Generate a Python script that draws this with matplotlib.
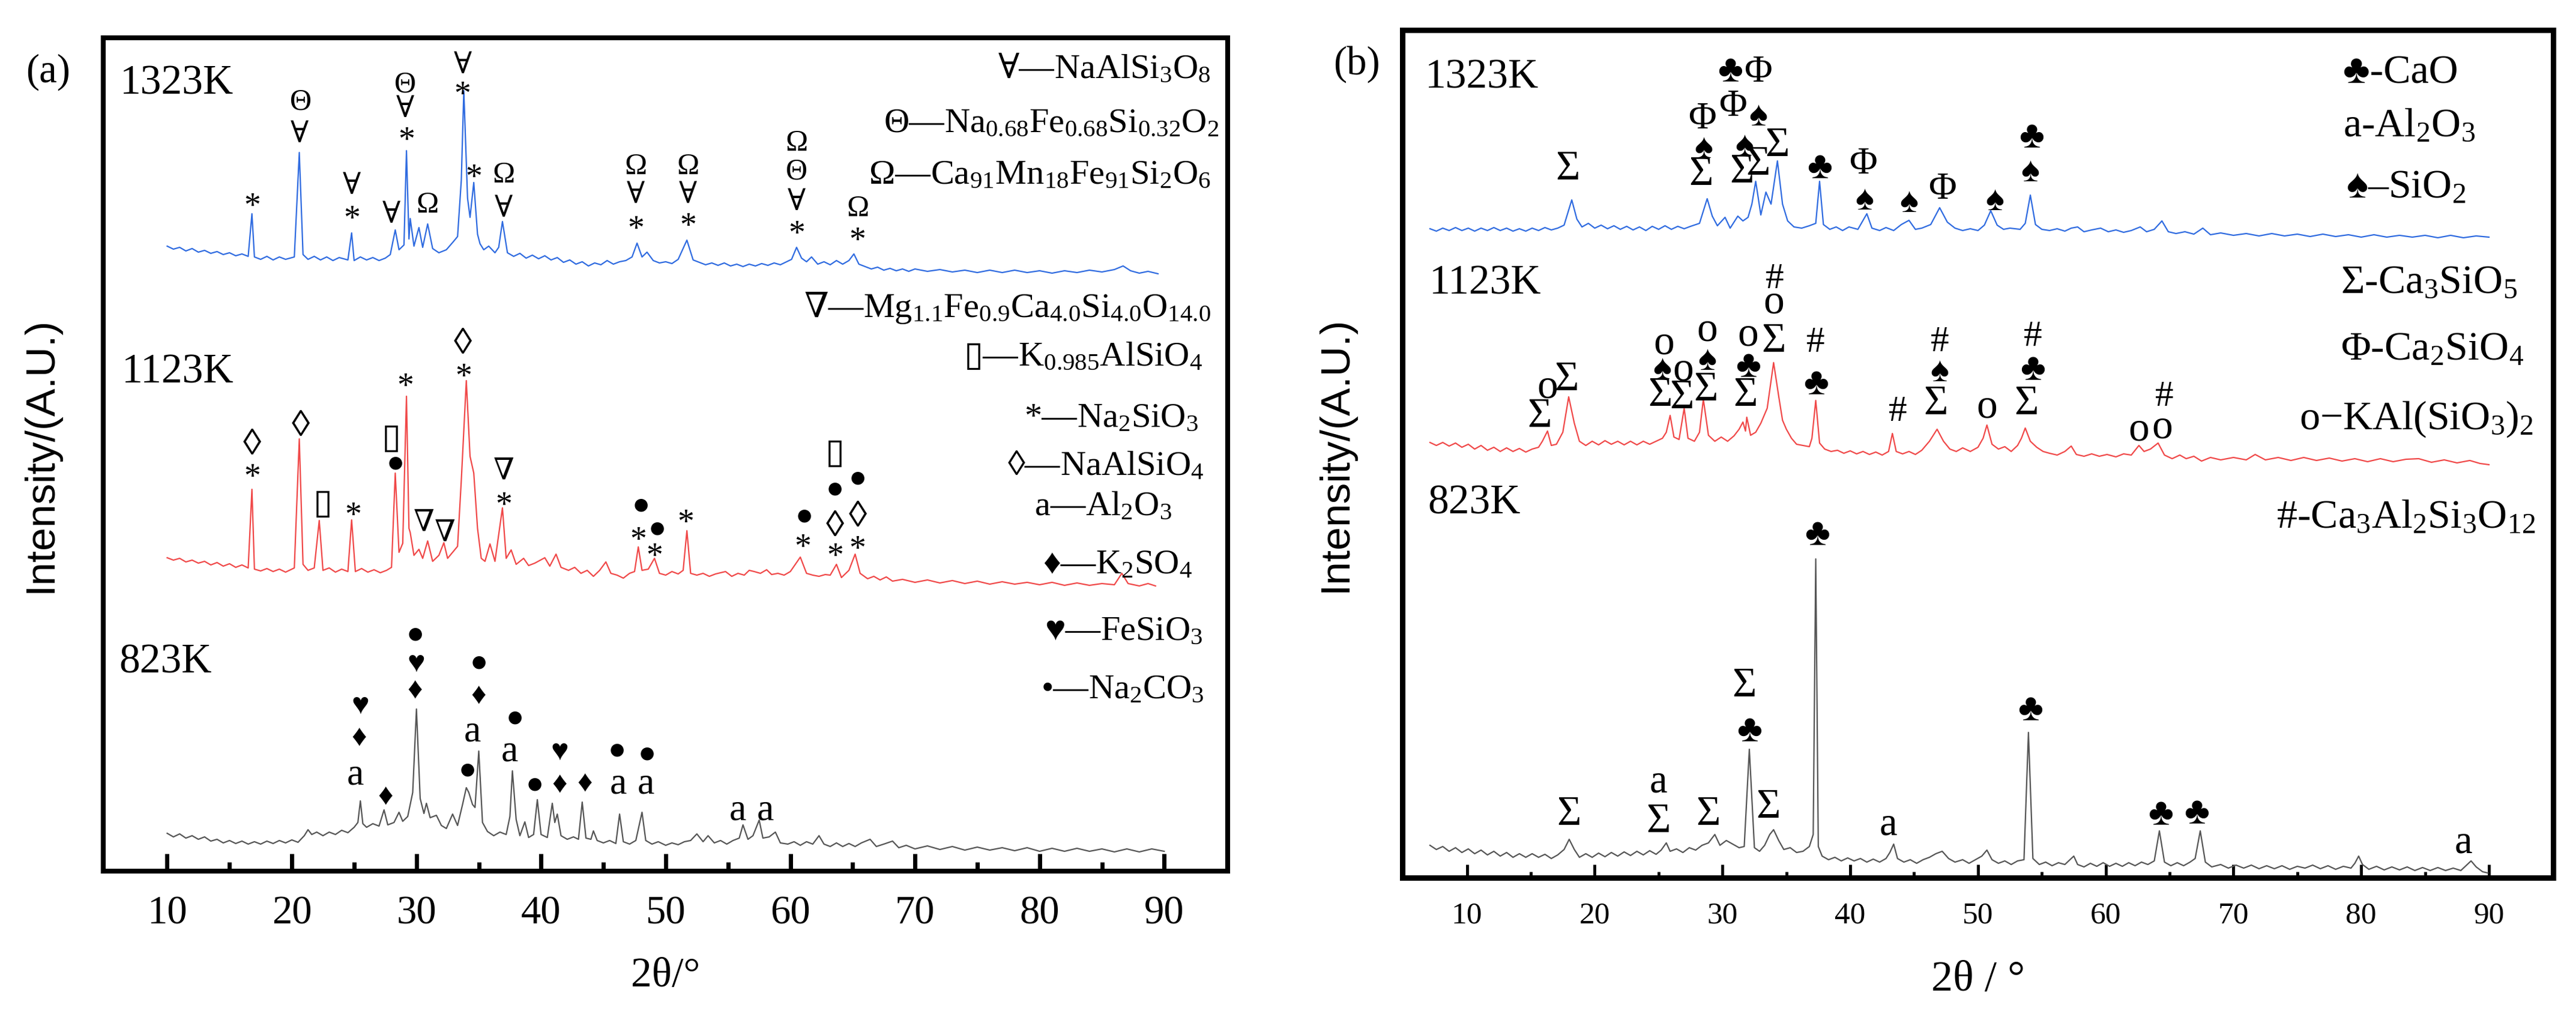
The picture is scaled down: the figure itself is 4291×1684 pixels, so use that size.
import matplotlib
matplotlib.use('Agg')
import matplotlib.pyplot as plt
from matplotlib.ticker import MultipleLocator

plt.rcParams['font.family'] = ['Liberation Serif', 'DejaVu Serif', 'DejaVu Sans']
plt.rcParams['mathtext.fontset'] = 'custom'
plt.rcParams['mathtext.rm'] = 'Liberation Serif'
plt.rcParams['mathtext.it'] = 'Liberation Serif:italic'
plt.rcParams['mathtext.default'] = 'regular'

# ---------------- data: panel (a) ----------------
# (2theta, intensity A.U., stacked)
a1323 = [(10.0,1041),(10.5,1036),(11,1039),(11.5,1033),(12,1037),(12.5,1031),(13,1034),(13.5,1029),(14,1032),(14.5,1027),(15,1030),(15.5,1025),(16,1028),(16.5,1024),(16.8,1095),(17.0,1023),(17.5,1019),(18,1024),(18.5,1018),(19,1023),(19.5,1019),(20.2,1023),(20.6,1197),(20.9,1027),(21.3,1019),(21.8,1024),(22.3,1018),(22.8,1023),(23.3,1017),(23.8,1022),(24.5,1018),(24.8,1063),(25.0,1017),(25.5,1023),(26,1018),(26.5,1022),(27,1017),(27.5,1021),(27.9,1027),(28.3,1068),(28.6,1035),(29.0,1043),(29.2,1200),(29.4,1053),(29.5,1087),(29.8,1041),(30.2,1072),(30.5,1039),(30.9,1078),(31.3,1037),(31.8,1030),(32.4,1035),(32.9,1047),(33.3,1057),(33.6,1151),(33.8,1300),(34.1,1121),(34.3,1089),(34.6,1147),(34.9,1061),(35.1,1045),(35.4,1035),(35.8,1041),(36.3,1030),(36.6,1039),(36.9,1082),(37.3,1030),(37.8,1024),(38.3,1029),(38.8,1021),(39.3,1026),(39.8,1020),(40.3,1025),(40.8,1018),(41.3,1022),(41.8,1014),(42.3,1018),(42.8,1011),(43.3,1015),(43.8,1008),(44.3,1013),(44.8,1010),(45.3,1017),(45.8,1011),(46.3,1015),(46.8,1017),(47.3,1023),(47.7,1046),(48.1,1023),(48.5,1031),(49.0,1017),(49.5,1013),(50.0,1015),(50.5,1012),(51.0,1019),(51.7,1051),(52.2,1018),(52.7,1014),(53.2,1010),(53.7,1013),(54.2,1009),(54.7,1013),(55.2,1008),(55.7,1011),(56.2,1007),(56.7,1011),(57.2,1008),(57.7,1012),(58.2,1009),(58.7,1013),(59.2,1010),(59.7,1015),(60.1,1019),(60.5,1039),(60.9,1021),(61.3,1015),(61.7,1023),(62.2,1011),(62.7,1015),(63.2,1010),(63.7,1017),(64.2,1011),(64.7,1017),(65.1,1028),(65.5,1011),(66,1007),(66.5,1003),(67,1006),(67.5,1001),(68,1004),(68.5,1000),(69,1003),(69.5,999),(70,1003),(71,999),(72,1002),(73,998),(74,1001),(75,997),(76,1001),(77,997),(78,1001),(79,997),(80,1000),(81,996),(82,1000),(83,997),(84,1001),(85,998),(86,1002),(86.7,1008),(87.3,1000),(88,996),(88.7,999),(89.5,995)]

a1123 = [(10.0,522),(10.5,518),(11,521),(11.5,515),(12,518),(12.5,513),(13,516),(13.5,510),(14,514),(14.5,508),(15,512),(15.5,506),(16,510),(16.5,505),(16.8,636),(17.0,503),(17.5,500),(18,504),(18.5,499),(19,503),(19.5,498),(20.2,505),(20.6,720),(20.9,511),(21.3,501),(21.8,505),(22.2,584),(22.5,501),(23,505),(23.5,498),(24,503),(24.5,499),(24.8,585),(25.1,499),(25.6,504),(26.1,498),(26.6,502),(27.1,497),(27.6,501),(28.0,506),(28.3,663),(28.6,531),(28.9,546),(29.2,791),(29.4,571),(29.5,564),(29.8,526),(30.2,536),(30.5,521),(30.9,550),(31.3,516),(31.8,526),(32.2,547),(32.5,521),(32.9,531),(33.3,541),(33.6,651),(34.0,817),(34.3,691),(34.6,663),(34.9,571),(35.2,521),(35.5,516),(35.9,545),(36.3,516),(36.9,605),(37.2,521),(37.6,535),(38.0,511),(38.6,521),(39.0,509),(39.5,513),(40.3,522),(40.7,508),(41.2,528),(41.6,506),(42.2,501),(42.7,506),(43.2,496),(43.7,501),(44.2,491),(44.7,501),(45.2,515),(45.6,496),(46.1,493),(46.6,488),(47.1,496),(47.5,499),(47.8,540),(48.1,501),(48.6,503),(49.1,521),(49.5,496),(50,493),(50.5,499),(51.0,495),(51.4,501),(51.7,567),(52.0,496),(52.5,493),(53,496),(53.5,491),(54,495),(54.8,499),(55.3,491),(55.8,496),(56.3,493),(56.7,501),(57.1,499),(57.6,496),(58.1,502),(58.5,494),(59,496),(59.5,493),(60.0,499),(60.8,523),(61.3,496),(61.8,493),(62.3,491),(62.8,494),(63.2,493),(63.7,511),(64.1,489),(64.7,501),(65.2,528),(65.6,496),(66.2,487),(66.7,491),(67.2,485),(67.7,490),(68.2,483),(69,486),(70,481),(71,485),(72,480),(73,484),(74,479),(75,483),(76,478),(77,482),(78,478),(79,481),(80,477),(81,481),(82,476),(83,480),(84,476),(85,479),(86,477),(86.6,496),(87.1,479),(88,475),(88.7,479),(89.3,475)]

a823 = [(10.0,63),(10.5,57),(11,62),(11.5,55),(12,59),(12.5,53),(13,57),(13.5,50),(14,53),(14.5,47),(15,51),(15.5,46),(16,50),(16.5,45),(17,49),(17.5,45),(18,50),(18.5,46),(19,51),(19.5,47),(20,52),(20.5,48),(21,59),(21.3,69),(21.6,61),(22,65),(22.5,59),(23,65),(23.5,61),(24,68),(24.5,64),(25,73),(25.3,81),(25.5,117),(25.7,79),(26,73),(26.5,79),(27,75),(27.4,102),(27.7,77),(28.2,81),(28.6,98),(28.9,83),(29.3,91),(29.7,131),(30.0,270),(30.3,121),(30.6,96),(30.8,113),(31.1,89),(31.6,93),(32.0,76),(32.4,71),(32.9,95),(33.3,76),(33.7,111),(34.0,139),(34.2,131),(34.5,111),(34.7,106),(35.0,200),(35.3,81),(35.7,66),(36.2,59),(36.7,65),(37.2,61),(37.5,91),(37.7,167),(38.0,86),(38.3,59),(38.7,82),(39.0,56),(39.4,61),(39.7,119),(40.0,61),(40.5,56),(40.9,113),(41.1,81),(41.3,95),(41.6,59),(42.1,53),(42.6,57),(43.0,53),(43.3,115),(43.6,55),(44.0,53),(44.2,67),(44.5,51),(45,47),(45.5,51),(46.0,46),(46.3,95),(46.6,49),(47.1,45),(47.6,51),(48.1,98),(48.4,51),(48.9,45),(49.4,49),(50,43),(50.5,47),(51,44),(51.5,49),(52,51),(52.5,62),(53,49),(53.4,59),(53.9,47),(54.4,51),(54.9,45),(55.4,51),(55.9,55),(56.2,77),(56.6,53),(57.0,59),(57.5,85),(57.8,55),(58.3,57),(58.8,65),(59.2,47),(59.8,45),(60.3,49),(60.8,43),(61.3,49),(61.8,45),(62.3,59),(62.7,45),(63.2,41),(63.7,47),(64.2,41),(64.7,46),(65.2,41),(65.7,47),(66.4,53),(66.9,41),(67.5,45),(68.2,50),(68.7,39),(69.3,43),(70,37),(71,42),(72,36),(73,41),(74,35),(75,40),(76,35),(77,39),(78,34),(79,39),(80,33),(81,38),(82,33),(83,38),(84,33),(85,37),(86,32),(87,37),(88,32),(89,37),(90,33)]

# phase marks (2theta, height, symbol)
a1323_marks = [(16.8,1120,'*'),(20.6,1231,'∀'),(20.7,1286,'Θ'),(24.8,1099,'*'),(24.8,1145,'∀'),(28.0,1097,'∀'),(29.2,1230,'*'),(29.1,1273,'∀'),(29.1,1315,'Θ'),(30.9,1114,'Ω'),(33.7,1306,'*'),(33.7,1346,'∀'),(34.6,1168,'*'),(37.0,1164,'Ω'),(37.0,1107,'∀'),(47.6,1082,'*'),(47.6,1130,'∀'),(47.6,1178,'Ω'),(51.8,1087,'*'),(51.8,1130,'∀'),(51.8,1178,'Ω'),(60.5,1074,'*'),(60.5,1118,'∀'),(60.5,1170,'Θ'),(60.5,1217,'Ω'),(65.4,1063,'*'),(65.4,1108,'Ω')]
a1123_marks = [(16.8,669,'*'),(16.8,717,'◊'),(20.7,748,'◊'),(22.5,617,'▯'),(24.9,605,'*'),(28.3,681,'●'),(28.0,726,'▯'),(29.1,820,'*'),(30.6,585,'∇'),(32.3,568,'∇'),(33.8,836,'*'),(33.7,885,'◊'),(37.0,622,'*'),(37.0,671,'∇'),(47.8,564,'*'),(48.0,611,'●'),(49.1,537,'*'),(49.3,572,'●'),(51.6,593,'*'),(61.0,552,'*'),(61.1,593,'●'),(63.6,537,'*'),(63.6,581,'◊'),(63.6,638,'●'),(63.6,701,'▯'),(65.4,549,'*'),(65.4,597,'◊'),(65.4,656,'●')]
a823_marks = [(25.1,159,'a'),(25.4,226,'♦'),(25.5,279,'♥'),(27.5,128,'♦'),(29.9,305,'♦'),(30.0,349,'♥'),(29.9,396,'●'),(34.1,170,'●'),(34.5,231,'a'),(35.0,296,'♦'),(35.0,349,'●'),(37.5,198,'a'),(37.9,257,'●'),(39.5,146,'●'),(41.5,148,'♦'),(41.5,202,'♥'),(43.5,150,'♦'),(46.2,144,'a'),(46.1,203,'●'),(48.4,144,'a'),(48.5,197,'●'),(55.8,100,'a'),(58.0,100,'a')]

a_phases = ['∀—NaAlSi$_3$O$_8$',
            'Θ—Na$_{0.68}$Fe$_{0.68}$Si$_{0.32}$O$_2$',
            'Ω—Ca$_{91}$Mn$_{18}$Fe$_{91}$Si$_2$O$_6$',
            '∇—Mg$_{1.1}$Fe$_{0.9}$Ca$_{4.0}$Si$_{4.0}$O$_{14.0}$',
            '▯—K$_{0.985}$AlSiO$_4$',
            '*—Na$_2$SiO$_3$',
            '◊—NaAlSiO$_4$',
            'a—Al$_2$O$_3$',
            '♦—K$_2$SO$_4$',
            '♥—FeSiO$_3$',
            '•—Na$_2$CO$_3$']

# ---------------- data: panel (b) ----------------
b1323 = [(7.1,1081),(7.6,1077),(8.1,1082),(8.6,1078),(9.1,1083),(9.6,1078),(10.1,1082),(10.6,1077),(11.1,1082),(11.6,1078),(12.1,1083),(12.6,1078),(13.1,1082),(13.6,1077),(14.1,1081),(14.6,1077),(15.1,1082),(15.6,1078),(16.1,1083),(16.6,1079),(17.1,1082),(17.6,1087),(18.2,1129),(18.6,1097),(19.0,1084),(19.5,1090),(20,1082),(20.5,1087),(21,1081),(21.5,1086),(22,1080),(22.5,1085),(23,1079),(23.5,1084),(24,1078),(24.5,1085),(25,1080),(25.5,1086),(26,1080),(26.5,1085),(27,1081),(27.5,1085),(28.2,1090),(28.8,1131),(29.2,1102),(29.6,1086),(30.2,1100),(30.6,1082),(31.2,1102),(31.6,1094),(32.0,1100),(32.3,1122),(32.6,1160),(33.0,1104),(33.4,1142),(33.8,1122),(34.3,1194),(34.7,1122),(35.1,1094),(35.6,1084),(36.2,1082),(36.8,1086),(37.3,1090),(37.6,1160),(37.9,1088),(38.4,1080),(38.9,1084),(39.4,1078),(39.9,1084),(40.6,1080),(41.3,1106),(41.7,1082),(42.3,1078),(42.8,1083),(43.4,1078),(44.0,1088),(44.6,1095),(45.1,1080),(45.6,1082),(46.3,1088),(47.0,1116),(47.6,1092),(48.2,1082),(48.8,1078),(49.4,1081),(50.0,1078),(50.5,1087),(51.0,1111),(51.5,1087),(52.0,1080),(52.5,1082),(53.3,1080),(53.7,1090),(54.1,1137),(54.5,1088),(55.0,1080),(55.6,1078),(56.2,1081),(56.8,1077),(57.3,1082),(57.8,1084),(58.3,1076),(58.9,1079),(59.6,1082),(60.2,1076),(60.8,1079),(61.4,1075),(62.0,1078),(62.7,1084),(63.2,1076),(63.8,1080),(64.4,1094),(64.9,1076),(65.5,1073),(66.2,1076),(66.9,1072),(67.6,1082),(68.2,1071),(69,1074),(70,1070),(71,1073),(72,1069),(73,1073),(74,1069),(75,1072),(76,1068),(77,1072),(78,1068),(79,1071),(80,1067),(81,1071),(82,1067),(83,1070),(84,1067),(85,1070),(86,1066),(87,1070),(88,1066),(89,1069),(90,1067)]

b1123 = [(7.1,725),(7.6,720),(8.1,725),(8.6,719),(9.1,724),(9.6,717),(10.1,722),(10.6,714),(11.1,720),(11.6,712),(12.1,717),(12.6,710),(13.1,716),(13.6,710),(14.1,715),(14.6,709),(15.1,714),(15.6,717),(15.9,727),(16.3,744),(16.6,720),(17.0,722),(17.5,742),(17.96,801),(18.4,757),(18.8,727),(19.3,720),(19.8,727),(20.3,721),(20.8,728),(21.3,722),(21.8,727),(22.3,721),(22.8,727),(23.3,721),(23.8,727),(24.3,722),(24.8,727),(25.3,732),(25.6,742),(25.9,770),(26.2,734),(26.6,730),(27.0,782),(27.3,732),(27.8,727),(28.2,742),(28.5,797),(28.9,737),(29.4,727),(29.9,734),(30.4,727),(30.9,736),(31.3,747),(31.6,759),(31.8,744),(31.9,767),(32.2,737),(32.6,742),(33.0,757),(33.5,782),(34.0,858),(34.4,802),(34.7,762),(35.0,747),(35.4,732),(35.8,722),(36.3,720),(36.8,718),(37.0,732),(37.3,795),(37.6,724),(38.0,714),(38.5,710),(39,712),(39.5,707),(40,711),(40.5,706),(41,710),(41.5,705),(42,709),(42.5,704),(43.0,710),(43.3,740),(43.6,710),(44.1,706),(44.6,710),(45.1,705),(45.6,712),(46.2,727),(46.8,747),(47.3,727),(47.8,714),(48.3,710),(48.8,716),(49.4,710),(50.0,717),(50.4,732),(50.7,754),(51.1,722),(51.6,714),(52.1,718),(52.6,710),(53.1,720),(53.4,732),(53.7,749),(54.1,727),(54.6,717),(55.1,710),(55.6,707),(56.2,704),(56.8,710),(57.3,719),(57.7,705),(58.3,702),(58.9,706),(59.5,702),(60.1,705),(60.8,701),(61.4,706),(62.0,704),(62.6,720),(63.0,710),(63.5,714),(64.1,724),(64.6,704),(65.2,698),(65.8,704),(66.3,698),(66.9,702),(67.5,694),(68.2,700),(69,696),(70,700),(71,696),(71.7,705),(72.5,696),(73.5,700),(74.5,695),(75.5,700),(76.5,695),(77.5,699),(78.5,694),(79.5,698),(80.5,693),(81.5,698),(82.5,693),(83.5,697),(84.5,698),(85.5,692),(86.5,696),(87.5,691),(88.5,695),(89.3,690),(90,688)]

b823 = [(7.1,54),(7.6,47),(8.1,52),(8.6,44),(9.1,50),(9.6,42),(10.1,48),(10.6,40),(11.1,46),(11.6,38),(12.1,44),(12.6,36),(13.1,42),(13.6,34),(14.1,40),(14.6,34),(15.1,40),(15.6,34),(16.1,39),(16.6,32),(17.1,38),(17.6,47),(18.0,64),(18.4,47),(18.8,34),(19.3,40),(19.8,34),(20.3,41),(20.8,35),(21.3,42),(21.8,36),(22.3,43),(22.8,37),(23.3,44),(23.8,38),(24.3,45),(24.8,39),(25.2,46),(25.6,58),(25.9,44),(26.4,48),(26.9,42),(27.4,50),(27.9,46),(28.4,54),(28.9,58),(29.4,72),(29.8,54),(30.3,62),(30.8,56),(31.3,50),(31.7,52),(32.1,214),(32.5,50),(32.9,44),(33.3,54),(33.7,72),(34.0,80),(34.4,62),(34.8,47),(35.3,50),(35.8,42),(36.3,44),(36.8,52),(37.1,72),(37.3,531),(37.5,52),(37.8,36),(38.3,30),(38.8,34),(39.3,28),(39.8,33),(40.3,28),(40.8,32),(41.3,26),(41.8,31),(42.3,26),(42.8,32),(43.1,42),(43.4,56),(43.7,32),(44.2,26),(44.7,30),(45.2,24),(45.7,30),(46.2,34),(46.7,40),(47.2,44),(47.7,32),(48.2,26),(48.8,30),(49.3,24),(49.8,30),(50.3,36),(50.7,46),(51.1,30),(51.6,24),(52.1,28),(52.6,22),(53.1,28),(53.6,30),(53.95,242),(54.3,32),(54.8,22),(55.3,26),(55.8,20),(56.3,25),(56.8,22),(57.2,30),(57.5,36),(57.8,22),(58.3,18),(58.8,24),(59.3,19),(59.8,25),(60.3,19),(60.8,24),(61.3,19),(61.8,25),(62.3,20),(62.8,26),(63.3,22),(63.8,28),(64.2,78),(64.6,26),(65.1,20),(65.6,25),(66.1,20),(66.6,26),(67.0,32),(67.4,78),(67.8,26),(68.3,18),(69,22),(69.6,16),(70.2,21),(70.8,16),(71.4,21),(72,15),(72.6,20),(73.2,15),(73.8,20),(74.4,14),(75,19),(75.6,16),(76.2,21),(76.8,15),(77.4,20),(78,14),(78.6,19),(79.2,16),(79.5,24),(79.8,36),(80.1,22),(80.6,14),(81.2,19),(81.8,13),(82.4,18),(83,13),(83.6,18),(84.2,12),(84.8,17),(85.4,12),(86,17),(86.6,12),(87.2,16),(87.8,12),(88.3,22),(88.6,28),(89.0,18),(89.5,10),(89.9,8)]

b1323_marks = [(17.9,1186,'Σ'),(28.3,1177,'Σ'),(28.5,1219,'♠'),(28.4,1269,'Φ'),(31.5,1181,'Σ'),(31.7,1223,'♠'),(30.8,1290,'Φ'),(30.6,1347,'♣'),(32.8,1347,'Φ'),(32.8,1273,'♠'),(32.8,1194,'Σ'),(34.3,1225,'Σ'),(37.6,1186,'♣'),(41.0,1194,'Φ'),(41.1,1133,'♠'),(44.6,1129,'♠'),(47.2,1152,'Φ'),(51.3,1132,'♠'),(54.1,1180,'♠'),(54.2,1237,'♣')]
b1123_marks = [(15.7,774,'Σ'),(16.3,816,'o'),(17.8,835,'Σ'),(25.1,809,'Σ'),(25.3,851,'♠'),(25.4,889,'o'),(26.8,805,'Σ'),(26.9,845,'o'),(28.7,818,'Σ'),(28.8,866,'♠'),(28.8,911,'o'),(31.8,809,'Σ'),(32.0,855,'♣'),(32.0,903,'o'),(34.0,899,'Σ'),(34.0,957,'o'),(34.1,1003,'#'),(37.3,826,'♣'),(37.3,897,'#'),(43.7,782,'#'),(46.7,795,'Σ'),(47.0,847,'♠'),(47.0,898,'#'),(50.7,783,'o'),(53.8,795,'Σ'),(54.3,850,'♣'),(54.3,907,'#'),(62.6,745,'o'),(64.4,749,'o'),(64.6,807,'#')]
b823_marks = [(18.0,111,'Σ'),(25.0,99,'Σ'),(25.0,159,'a'),(28.9,111,'Σ'),(33.6,123,'Σ'),(32.1,248,'♣'),(31.7,325,'Σ'),(37.4,575,'♣'),(43.0,88,'a'),(54.1,283,'♣'),(64.3,109,'♣'),(67.1,111,'♣'),(88.0,58,'a')]

b_phases = ['♣-CaO', 'a-Al$_2$O$_3$', '♠–SiO$_2$', 'Σ-Ca$_3$SiO$_5$',
            'Φ-Ca$_2$SiO$_4$', 'o−KAl(SiO$_3$)$_2$', '#-Ca$_3$Al$_2$Si$_3$O$_{12}$']

samples = ['1323K', '1123K', '823K']

# ---------------- styling / layout ----------------
BLUE, RED, GRAY = '#2F6BE0', '#F04848', '#555555'
CENTER_EM = {'*': 0.50, 'a': 0.23, 'o': 0.23, '●': 0.30, '◊': 0.36, '▯': 0.36}

def mark(ax, x, y, s, fs):
    c = CENTER_EM.get(s, 0.33)
    ax.annotate(s, (x, y), xytext=(0, -(c - 0.233) * fs), textcoords='offset points',
                ha='center', va='center', fontsize=fs, color='black')

def curve(ax, pts, color):
    xs = [p[0] for p in pts]
    ys = [p[1] for p in pts]
    ax.plot(xs, ys, color=color, lw=1.6, solid_joinstyle='round')

fig = plt.figure(figsize=(42.91, 16.84), dpi=100)
axA = fig.add_axes([0.04008, 0.13836, 0.43650, 0.82423])
axB = fig.add_axes([0.54440, 0.13183, 0.44675, 0.83848])

# panel (a)
curve(axA, a1323, BLUE)
curve(axA, a1123, RED)
curve(axA, a823, GRAY)
sizeA = {'a': 46, '◊': 44, '▯': 42, '*': 40}
for marks in (a1323_marks, a1123_marks, a823_marks):
    for x, y, s in marks:
        mark(axA, x, y, s, sizeA.get(s, 36))
for (x, y), s in zip([(6.22, 1294), (6.36, 813), (6.12, 331)], samples):
    axA.text(x, y, s, fontsize=50, ha='left', va='baseline')
posA = [(93.74, 1321), (94.42, 1231), (93.74, 1145), (93.74, 923), (93.07, 842),
        (92.73, 740), (93.21, 660), (90.61, 593), (92.25, 496), (93.07, 385), (93.21, 288)]
for (x, y), s in zip(posA, a_phases):
    sym, formula = s.split('—', 1)
    t = axA.text(x, y, formula, fontsize=42, ha='right', va='baseline')
    # phase symbol (plain text so font fallback works), placed just left of the formula
    axA.annotate(sym + '—', xy=(0, y), xycoords=(t, 'data'), fontsize=42,
                 ha='right', va='baseline')
axA.set_xlim(4.87, 95.09)
axA.set_ylim(0, 1388)

# panel (b)
curve(axB, b1323, BLUE)
curve(axB, b1123, RED)
curve(axB, b823, GRAY)
sizeB = {'Σ': 50, 'Φ': 46, '♣': 46, '♠': 42, '#': 44, 'o': 50, 'a': 48}
for marks in (b1323_marks, b1123_marks, b823_marks):
    for x, y, s in marks:
        mark(axB, x, y, s, sizeB.get(s, 46))
for (x, y), s in zip([(6.73, 1315), (7.06, 972), (6.92, 606)], samples):
    axB.text(x, y, s, fontsize=50, ha='left', va='baseline')
posB = [(78.58, 1323), (78.58, 1235), (78.82, 1132), (78.40, 974), (78.40, 862),
        (75.15, 747), (73.37, 583)]
for (x, y), s in zip(posB, b_phases):
    axB.text(x, y, s, fontsize=49, ha='left', va='baseline')
axB.set_xlim(4.94, 95.03)
axB.set_ylim(0, 1412)

# axes styling
for ax, sw, ml, mnl, tw, lsz in ((axA, 5.8, 21, 11, 5.0, 48), (axB, 6.5, 16, 7.5, 3.5, 37)):
    for sp in ax.spines.values():
        sp.set_linewidth(sw)
    ax.set_yticks([])
    ax.set_xticks(range(10, 91, 10))
    ax.set_xticks(range(15, 90, 10), minor=True)
    ax.tick_params(axis='x', which='major', direction='in', length=ml, width=tw,
                   pad=29, labelsize=lsz, top=False)
    ax.tick_params(axis='x', which='minor', direction='in', length=mnl, width=tw, top=False)

axA.set_xlabel('2θ/°', fontsize=50, va='center')
axA.xaxis.set_label_coords(0.5, -0.1261)
axB.set_xlabel('2θ / °', fontsize=52, va='center')
axB.xaxis.set_label_coords(0.5, -0.1204)
axA.set_ylabel('Intensity/(A.U.)', family=['Liberation Sans'], fontsize=50, va='center')
axA.yaxis.set_label_coords(-0.0555, 0.5)
axB.set_ylabel('Intensity/(A.U.)', family=['Liberation Sans'], fontsize=50, va='center')
axB.yaxis.set_label_coords(-0.0579, 0.5)

fig.text(80 / 4291, 1 - 120 / 1684, '(a)', fontsize=48, ha='center', va='center')
fig.text(2260 / 4291, 1 - 107 / 1684, '(b)', fontsize=48, ha='center', va='center')

fig.savefig('out.png', dpi=100)
